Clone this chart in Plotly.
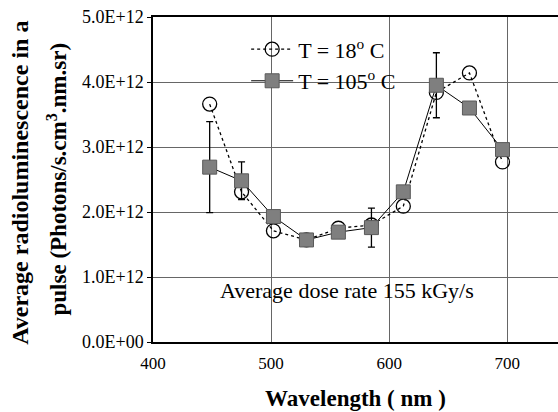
import plotly.graph_objects as go

wavelength = [448, 475, 502, 530, 557, 585, 612, 640, 668, 696]
rl_18C = [3.66e12, 2.31e12, 1.71e12, 1.57e12, 1.75e12, 1.80e12, 2.09e12, 3.84e12, 4.14e12, 2.77e12]
rl_105C = [2.69e12, 2.48e12, 1.93e12, 1.57e12, 1.69e12, 1.76e12, 2.31e12, 3.95e12, 3.60e12, 2.96e12]
err_105C = [0.70e12, 0.29e12, 0, 0, 0, 0.30e12, 0, 0.50e12, 0, 0]

y_tickvals = [0, 1e12, 2e12, 3e12, 4e12, 5e12]
y_ticktext = ["0.0E+00", "1.0E+12", "2.0E+12", "3.0E+12", "4.0E+12", "5.0E+12"]
x_tickvals = [400, 500, 600, 700]

FONT = "Liberation Serif, Times New Roman, serif"

fig = go.Figure()
fig.add_trace(go.Scatter(
    x=wavelength, y=rl_18C, mode="lines+markers",
    name="T = 18<sup>o</sup> C",
    line=dict(color="black", width=1.3, dash="dot"),
    marker=dict(symbol="circle-open", size=14, color="black", line=dict(width=1.3)),
))
fig.add_trace(go.Scatter(
    x=wavelength, y=rl_105C, mode="lines+markers",
    name="T = 105<sup>o</sup> C",
    line=dict(color="black", width=1),
    marker=dict(symbol="square", size=14, color="#7f7f7f", line=dict(color="#5a5a5a", width=1)),
    error_y=dict(type="data", array=err_105C, visible=True, color="black", thickness=1.3, width=3.5),
))

fig.add_annotation(
    x=564, y=0.8e12, xref="x", yref="y",
    text="Average dose rate 155 kGy/s", showarrow=False,
    font=dict(family=FONT, size=22, color="black"),
)
fig.add_annotation(
    xref="paper", yref="paper", x=0, y=0.49, xshift=-133, xanchor="center", yanchor="middle",
    text="<b>Average radioluminescence in a</b>", textangle=-90, showarrow=False,
    font=dict(family=FONT, size=24, color="black"),
)
fig.add_annotation(
    xref="paper", yref="paper", x=0, y=0.5, xshift=-96, xanchor="center", yanchor="middle",
    text="<b>pulse (Photons/s.cm<sup>3</sup>.nm.sr)</b>", textangle=-90, showarrow=False,
    font=dict(family=FONT, size=23, color="black"),
)

fig.update_layout(
    width=558, height=412,
    margin=dict(l=153, r=0, t=17, b=70),
    paper_bgcolor="white", plot_bgcolor="white",
    font=dict(family=FONT, color="black"),
    showlegend=True,
    legend=dict(x=0.23, y=0.965, xanchor="left", yanchor="top",
                bgcolor="rgba(255,255,255,0)", font=dict(family=FONT, size=22, color="black"),
                itemwidth=42, tracegroupgap=0),
)
fig.update_xaxes(
    range=[400, 743], tickvals=x_tickvals, showgrid=True, gridcolor="#666", gridwidth=1,
    showline=True, linecolor="black", linewidth=1.5, mirror=True, ticks="", zeroline=False,
    ticklabelstandoff=5,
    tickfont=dict(family=FONT, size=17, color="black"),
    title=dict(text="<b>Wavelength ( nm )</b>", font=dict(family=FONT, size=23, color="black"), standoff=18),
)
fig.update_yaxes(
    range=[0, 5e12], tickvals=y_tickvals, ticktext=y_ticktext, showgrid=True, gridcolor="#666", gridwidth=1,
    showline=True, linecolor="black", linewidth=1.5, ticks="outside", ticklen=4, tickcolor="black",
    zeroline=False, tickfont=dict(family=FONT, size=18, color="black"),
)

fig.write_html("out.html")
